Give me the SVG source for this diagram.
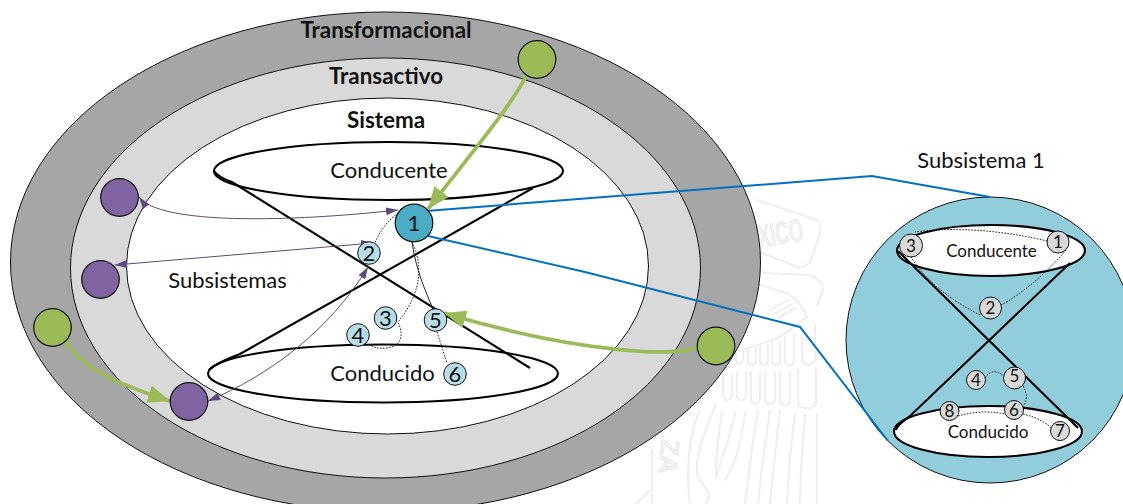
<svg xmlns="http://www.w3.org/2000/svg" width="1123" height="504" viewBox="0 0 1123 504">
<style>
text{font-family:"Lato","Open Sans","Liberation Sans",sans-serif;fill:#111;text-anchor:middle}
.b{font-weight:700;font-size:22.4px}
.l{font-size:22px}
.n{font-size:22px}
.s{font-size:17px}
.sn{font-size:17px}
.cone{fill:#fff;stroke:#000;stroke-width:2.1}
.x{fill:none;stroke:#000;stroke-width:2.1}
.dot{fill:none;stroke:#222;stroke-width:1;stroke-dasharray:1.6 1.4}
.blue{fill:none;stroke:#0070c0;stroke-width:2}
.green{fill:none;stroke:#9bbb59;stroke-width:3.8}
.purple{fill:none;stroke:#5f497a;stroke-width:1}
.pn{fill:#8064a2;stroke:#111;stroke-width:1.2}
.gn{fill:#9bbb59;stroke:#111;stroke-width:1.2}
.ln{fill:#b7dde8;stroke:#111;stroke-width:1}
.gy{fill:#d9d9d9;stroke:#111;stroke-width:1}
.wm{fill:none;stroke:#efefef;stroke-width:2.2;stroke-linecap:round;stroke-linejoin:round}
.wmt{font-family:"Liberation Sans",sans-serif;font-weight:700;fill:#f1f1f1;stroke:#ebebeb;stroke-width:.8}
</style>
<defs>
<marker id="gh" markerUnits="userSpaceOnUse" markerWidth="24" markerHeight="20" refX="22" refY="9" orient="auto"><path d="M0 0L22 9L0 18Z" fill="#9bbb59"/></marker>
<marker id="pe" markerUnits="userSpaceOnUse" markerWidth="13" markerHeight="10" refX="12" refY="4" orient="auto"><path d="M0 0L12 4L0 8Z" fill="#5f497a"/></marker>
<marker id="ps" markerUnits="userSpaceOnUse" markerWidth="13" markerHeight="10" refX="0" refY="4" orient="auto"><path d="M12 0L0 4L12 8Z" fill="#5f497a"/></marker>
</defs>
<g id="watermark">
<text class="wmt" transform="translate(782 244) rotate(-8)" font-size="32" textLength="46" lengthAdjust="spacingAndGlyphs">XICO</text>
<text class="wmt" transform="translate(660 456) rotate(96)" font-size="26">ZA</text>
<path class="wm" d="M757 200L817 220Q822 225 820 233L810 263L800 268L762 253"/>
<path class="wm" d="M763 273L810 275Q822 280 823 290L817 305"/>
<path class="wm" d="M760 285L787 293C798 300 805 310 807 317L780 337L743 350"/>
<path class="wm" d="M770 310L788 300M774 314L792 304M778 318L795 308"/>
<path class="wm" d="M736 350V360Q739 368 743 360V350M748 348V362Q752 369 756 362V348M760 345V362Q764 369 768 362V345M772 342V362Q776 369 780 362V342M785 335V362Q789 370 794 362V335M802 325V360Q808 370 815 360V325"/>
<path class="wm" d="M723 375V396Q727 405 732 396V375M737 372V396Q741 405 746 396V372M751 372V400Q755 408 760 400V372M765 372V400Q770 408 775 400V372M780 372V402Q785 410 790 402V372M798 370V405Q807 412 816 405V368"/>
<path class="wm" d="M722 412C718 440 715 462 716 478M735 412C730 440 722 455 716 478M745 412C742 440 735 465 725 480M758 410C752 445 748 480 745 504M770 410C765 445 760 480 758 504M780 410C776 445 772 480 770 504M795 414C790 450 788 480 787 504M805 414C802 450 800 480 800 504M817 414V504"/>
<path class="wm" d="M716 405C700 440 692 470 700 480C708 490 712 495 706 504"/>
<path class="wm" d="M700 410C690 430 685 470 690 504"/>
<path class="wm" d="M652 450V504M636 504L650 490"/>
</g>
<g id="transformacional"><ellipse cx="385.500" cy="262" rx="375" ry="250" fill="#a6a6a6" stroke="#111" stroke-width="1"/></g>
<g id="transactivo"><ellipse cx="385.500" cy="268" rx="315" ry="210" fill="#d9d9d9" stroke="#111" stroke-width="1"/></g>
<g id="sistema"><ellipse cx="387.500" cy="266" rx="261" ry="168" fill="#fff" stroke="#111" stroke-width="1"/></g>
<g id="labels">
<text class="b" x="386" y="38">Transformacional</text>
<text class="b" x="386" y="84">Transactivo</text>
<text class="b" x="386" y="128">Sistema</text>
<text class="l" x="227.500" y="288">Subsistemas</text>
</g>
<g id="conducente"><ellipse class="cone" cx="388.500" cy="171" rx="174.500" ry="29"/><text class="l" x="389" y="178">Conducente</text></g>
<g id="conducido"><ellipse class="cone" cx="383" cy="373.500" rx="175" ry="29"/><text class="l" x="382.500" y="381">Conducido</text></g>
<g id="subsistema1">
<text class="l" x="981" y="168">Subsistema 1</text>
<ellipse cx="990" cy="340" rx="144" ry="143" fill="#92cddc" stroke="#111" stroke-width="1"/>
<ellipse class="cone" cx="991" cy="250.500" rx="94" ry="25.500"/>
<ellipse class="cone" cx="988" cy="431.500" rx="94" ry="25.500"/>
<path class="x" d="M898 251L1078 428M896 430Q898 424 909 417L1070 263"/>
<text class="s" x="991.500" y="257">Conducente</text>
<text class="s" x="988" y="438">Conducido</text>
</g>
<g id="connectors">
<path class="x" d="M214 171Q218 177 232 182L530 368M209 370Q218 362 240 354L533 188"/>
<path class="blue" d="M426 211L872 176L990 197"/>
<path class="blue" d="M428 236L585 272L800 327L888 441"/>
<path class="green" marker-end="url(#gh)" d="M526 76C512 105 470 155 428 209"/>
<path class="green" marker-end="url(#gh)" d="M64 339C80 368 120 385 170 401"/>
<path class="green" marker-end="url(#gh)" d="M698 346C685 358 580 354 444 313"/>
<path class="purple" marker-start="url(#ps)" marker-end="url(#pe)" d="M139 197C160 225 290 222 398 210"/>
<path class="purple" marker-start="url(#ps)" marker-end="url(#pe)" d="M115 265L373 243"/>
<path class="purple" marker-start="url(#ps)" marker-end="url(#pe)" d="M208 401C270 375 330 330 368 267"/>
<path class="dot" d="M398 213C388 220 379 232 375 243"/>
<path class="dot" d="M412 242C422 262 424 290 398 322C404 335 402 346 387 348C378 349 374 347 369 345"/>
<path class="dot" style="stroke-dasharray:none" d="M412 242C416 270 425 290 433 309"/>
<path class="dot" d="M437 332L447 363"/>
<path class="dot" d="M1047 241C1010 232 960 226 915 232"/>
<path class="dot" d="M1066 250C1045 275 1020 295 1001 305"/>
<path class="dot" d="M980 315C950 300 925 280 911 257"/>
<path class="dot" d="M985 378C990 370 998 370 1003 376"/>
<path class="dot" d="M1023 386C1028 394 1027 402 1022 408"/>
<path class="dot" d="M1023 414C1040 418 1050 425 1058 435"/>
<path class="dot" d="M958 416C975 411 990 411 1005 414"/>
</g>
<g id="n1"><circle cx="414" cy="223" r="18.800" fill="#4bacc6" stroke="#111" stroke-width="1.200"/><text class="n" x="414" y="231">1</text></g>
<g id="n2"><circle class="ln" cx="369" cy="253" r="11.300"/><text class="n" x="369" y="261">2</text></g>
<g id="n3"><circle class="ln" cx="385.500" cy="318" r="11.300"/><text class="n" x="385.500" y="326">3</text></g>
<g id="n4"><circle class="ln" cx="358" cy="335" r="11.300"/><text class="n" x="358" y="343">4</text></g>
<g id="n5"><circle class="ln" cx="435.500" cy="320" r="11.300"/><text class="n" x="435.500" y="328">5</text></g>
<g id="n6"><circle class="ln" cx="455" cy="374" r="11.300"/><text class="n" x="455" y="382">6</text></g>
<g id="p1"><circle class="pn" cx="119.500" cy="197.500" r="18.800"/></g>
<g id="p2"><circle class="pn" cx="100.500" cy="279.500" r="18.800"/></g>
<g id="p3"><circle class="pn" cx="189" cy="401.500" r="18.800"/></g>
<g id="g1"><circle class="gn" cx="537" cy="59.500" r="18.800"/></g>
<g id="g2"><circle class="gn" cx="52.500" cy="327.500" r="18.800"/></g>
<g id="g3"><circle class="gn" cx="716" cy="346" r="18.800"/></g>
<g id="d1"><circle class="gy" cx="1058" cy="242" r="11"/><text class="sn" x="1058" y="248">1</text></g>
<g id="d2"><circle class="gy" cx="990.500" cy="308" r="11"/><text class="sn" x="990.500" y="314">2</text></g>
<g id="d3"><circle class="gy" cx="911" cy="245.500" r="11.500"/><text class="sn" x="911" y="251.500">3</text></g>
<g id="d4"><circle class="gy" cx="976" cy="380" r="9.500"/><text class="sn" x="976" y="386">4</text></g>
<g id="d5"><circle class="gy" cx="1014.500" cy="378" r="11"/><text class="sn" x="1014.500" y="382">5</text></g>
<g id="d6"><circle class="gy" cx="1014" cy="410" r="9.500"/><text class="sn" x="1014" y="416">6</text></g>
<g id="d7"><circle class="gy" cx="1060" cy="431" r="9.500"/><text class="sn" x="1060" y="437">7</text></g>
<g id="d8"><circle class="gy" cx="949.500" cy="411" r="9.500"/><text class="sn" x="949.500" y="417">8</text></g>
</svg>
